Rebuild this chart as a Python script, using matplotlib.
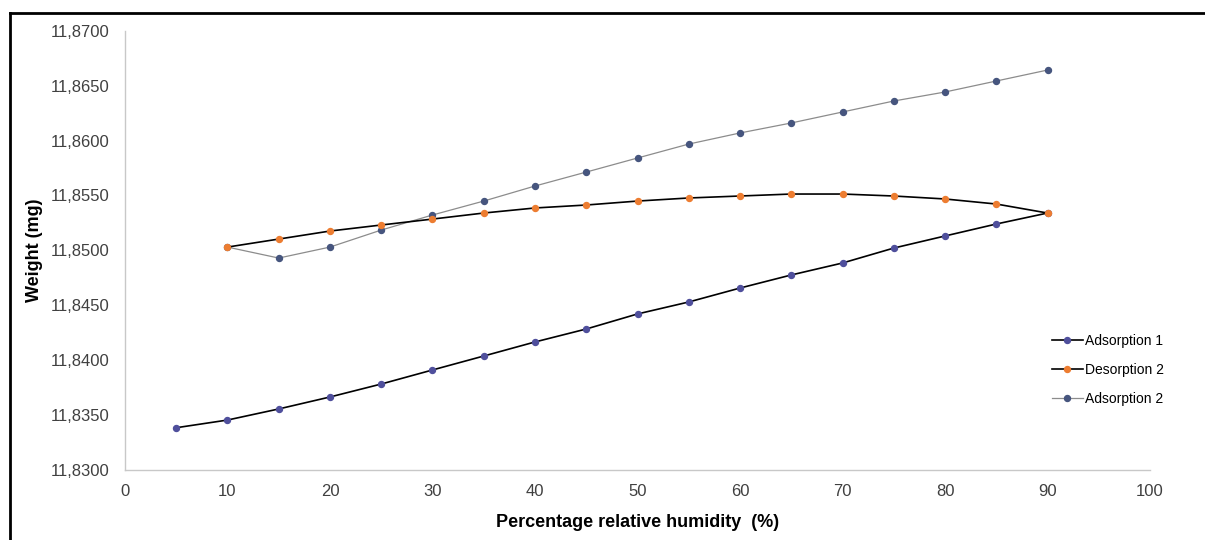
#!/usr/bin/env python3

import matplotlib

matplotlib.use("Agg")

import matplotlib.pyplot as plt
from matplotlib.lines import Line2D
from matplotlib.ticker import FuncFormatter, MultipleLocator

plt.rcParams["font.family"] = ["Liberation Sans", "DejaVu Sans"]

# Relative humidity steps (%)
rh_ads1 = [5, 10, 15, 20, 25, 30, 35, 40, 45, 50, 55, 60, 65, 70, 75, 80, 85, 90]
rh_des2 = [90, 85, 80, 75, 70, 65, 60, 55, 50, 45, 40, 35, 30, 25, 20, 15, 10]
rh_ads2 = [10, 15, 20, 25, 30, 35, 40, 45, 50, 55, 60, 65, 70, 75, 80, 85, 90]

# Sample weight (mg)
w_ads1 = [
    11.83385, 11.83455, 11.83556, 11.83665, 11.83783, 11.83911, 11.84038,
    11.84166, 11.84284, 11.84421, 11.84530, 11.84657, 11.84776, 11.84885,
    11.85021, 11.85131, 11.85240, 11.85340,
]
w_des2 = [
    11.85340, 11.85422, 11.85468, 11.85495, 11.85513, 11.85513, 11.85495,
    11.85477, 11.85449, 11.85413, 11.85386, 11.85340, 11.85285, 11.85231,
    11.85176, 11.85103, 11.85030,
]
w_ads2 = [
    11.85030, 11.84930, 11.85030, 11.85185, 11.85322, 11.85449, 11.85586,
    11.85713, 11.85841, 11.85968, 11.86069, 11.86160, 11.86260, 11.86360,
    11.86442, 11.86542, 11.86642,
]

x_ticks = list(range(0, 101, 10))


def comma_decimal(value, pos):
    return f"{value:.4f}".replace(".", ",")


def main():
    fig = plt.figure(figsize=(12.05, 5.40), dpi=100)
    ax = fig.add_axes([0.1037, 0.1296, 0.8507, 0.8135])

    ax.plot(rh_ads1, w_ads1, color="black", linewidth=1.2, marker="o",
            markersize=4.3, markerfacecolor="#4f4f9c",
            markeredgecolor="#4f4f9c", label="Adsorption 1", zorder=3)
    ax.plot(rh_des2, w_des2, color="black", linewidth=1.2, marker="o",
            markersize=4.3, markerfacecolor="#ed7d31",
            markeredgecolor="#ed7d31", label="Desorption 2", zorder=3)
    ax.plot(rh_ads2, w_ads2, color="#8c8c8c", linewidth=0.9, marker="o",
            markersize=4.3, markerfacecolor="#46557e",
            markeredgecolor="#46557e", label="Adsorption 2", zorder=2)

    ax.set_xlim(0, 100)
    ax.set_ylim(11.83, 11.87)
    ax.set_xticks(x_ticks)
    ax.yaxis.set_major_locator(MultipleLocator(0.005))
    ax.yaxis.set_major_formatter(FuncFormatter(comma_decimal))
    ax.tick_params(axis="both", length=0, labelsize=12, colors="#404040")
    ax.tick_params(axis="x", pad=10)
    ax.tick_params(axis="y", pad=11)

    for side in ("top", "right"):
        ax.spines[side].set_visible(False)
    for side in ("left", "bottom"):
        ax.spines[side].set_color("#c8c8c8")
        ax.spines[side].set_linewidth(1.0)

    ax.set_xlabel("Percentage relative humidity  (%)", fontsize=13,
                  fontweight="bold", labelpad=11)
    ax.set_ylabel("Weight (mg)", fontsize=13, fontweight="bold", labelpad=6)

    fig.legend(loc="center left", bbox_to_anchor=(1052 / 1205, 1 - 370 / 540),
               frameon=False, fontsize=10, handlelength=2.2,
               handletextpad=0.15, labelspacing=1.1, borderpad=0,
               borderaxespad=0)

    # page frame around the chart
    fig.add_artist(Line2D([10 / 1205, 1.0], [1 - 13 / 540, 1 - 13 / 540],
                          color="black", linewidth=2.0,
                          transform=fig.transFigure))
    fig.add_artist(Line2D([10 / 1205, 10 / 1205], [1 - 13 / 540, 0.0],
                          color="black", linewidth=2.0,
                          transform=fig.transFigure))

    fig.savefig("out.png", dpi=100)


if __name__ == "__main__":
    main()
